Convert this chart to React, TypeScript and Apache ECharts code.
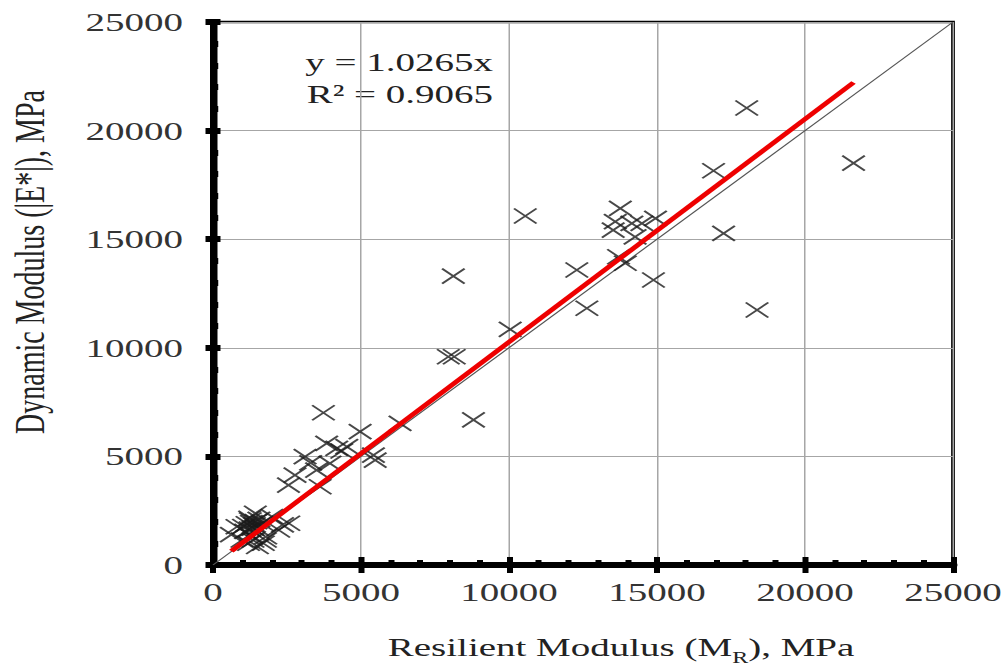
import React, { useEffect, useRef } from "react";
import * as echarts from "echarts";

// Resilient modulus (x) vs dynamic modulus (y), MPa
const xValues: number[] = [
  21640, 18030, 16910, 14950, 17250, 14880, 18380,
  10550, 8120, 13760, 13590, 13520, 14150, 14490, 14260, 13700, 13930, 12290, 12630,
  10040, 7950, 8150, 8800, 6320,
  3730, 4970, 5420, 5480, 3840, 4180, 4520, 3110, 2770, 2550, 3620, 3500, 3950, 4350, 3300,
  1430, 810, 1260, 1660, 2220, 2560, 980, 1320, 1770, 620, 1990, 1240, 1030, 1350, 1780,
  1100, 1500, 1400, 1200, 1500, 1700, 2350, 1150, 1300, 1450, 1350, 1550, 1250,
];
const yValues: number[] = [
  18500, 21040, 18150, 15960, 15270, 13120, 11740,
  16070, 13300, 16420, 15810, 15420, 15730, 15730, 15110, 14190, 13890, 13580, 11820,
  10850, 9590, 9590, 6680, 6520,
  7010, 6140, 5060, 4830, 5600, 5370, 5450, 4990, 4140, 3680, 3600, 4370, 4680, 5250, 4700,
  2380, 1760, 2070, 1920, 1610, 1920, 1150, 1300, 1150, 1400, 2230, 2150, 1770, 1150, 1300,
  1550, 1700, 1850, 1000, 850, 1000, 1850, 1900, 1950, 2000, 1700, 2100, 1650,
];
const slope = 1.0265;
const rSquared = "0.9065";
const axisMin = 0;
const axisMax = 25000;
const axisStep = 5000;

const S = 1.5; // reference is stretched horizontally
const W = 1004 / S;
const H = 670;
const FONT = "'Liberation Serif', 'Times New Roman', serif";

export default function App() {
  const ref = useRef<HTMLDivElement>(null);
  useEffect(() => {
    if (!ref.current) return;
    const chart = echarts.init(ref.current, null, { renderer: "svg", width: W, height: H });
    const points = xValues.map((x, i) => [x, yValues[i]]);
    const minX = Math.min(...xValues);
    const maxX = Math.max(...xValues);
    const trend = [
      [minX, slope * minX],
      [maxX, slope * maxX],
    ];
    const gridLeft = 213 / S;
    const gridRight = W - 953 / S;
    const baseAxis = {
      type: "value" as const,
      min: axisMin,
      max: axisMax,
      interval: axisStep,
    };
    const xTickStyle = { color: "#000", width: 4 };
    const yTickStyle = { color: "#000", width: 6 };
    const fmt = (v: number) => String(v);
    chart.setOption({
      animation: false,
      backgroundColor: "#fff",
      grid: {
        left: gridLeft,
        right: gridRight,
        top: 22,
        bottom: 105,
        show: true,
        borderColor: "#000",
        borderWidth: 2.5,
        outerBoundsMode: "none",
        containLabel: false,
      },
      xAxis: [
        {
          ...baseAxis,
          position: "bottom",
          axisLine: { show: true, onZero: false, lineStyle: { color: "#000", width: 6 } },
          axisTick: { show: true, inside: false, length: 8, lineStyle: xTickStyle },
          splitLine: { show: true, lineStyle: { color: "#a6a6a6", width: 1 } },
          axisLabel: { fontFamily: FONT, fontSize: 26, color: "#333", margin: 14, formatter: fmt },
        },
        {
          ...baseAxis,
          position: "bottom",
          axisLine: { show: false },
          axisTick: { show: true, inside: true, length: 8, lineStyle: xTickStyle },
          minorTick: { show: true, splitNumber: 5, length: 5, lineStyle: xTickStyle },
          splitLine: { show: false },
          axisLabel: { show: false },
        },
      ],
      yAxis: [
        {
          ...baseAxis,
          position: "left",
          axisLine: { show: true, onZero: false, lineStyle: { color: "#000", width: 5 } },
          axisTick: { show: true, inside: false, length: 5, lineStyle: yTickStyle },
          splitLine: { show: true, lineStyle: { color: "#a6a6a6", width: 1 } },
          axisLabel: { fontFamily: FONT, fontSize: 26, color: "#333", margin: 20, formatter: fmt },
        },
        {
          ...baseAxis,
          position: "left",
          axisLine: { show: false },
          axisTick: { show: true, inside: true, length: 5, lineStyle: yTickStyle },
          minorTick: { show: true, splitNumber: 5, length: 3.5, lineStyle: yTickStyle },
          splitLine: { show: false },
          axisLabel: { show: false },
        },
      ],
      series: [
        {
          type: "line",
          data: [
            [axisMin, axisMin],
            [axisMax, axisMax],
          ],
          symbol: "none",
          lineStyle: { color: "#555", width: 1 },
          silent: true,
          z: 2,
        },
        {
          type: "scatter",
          data: points,
          symbol: "path://M0,0L10,10M0,10L10,0",
          symbolSize: 15,
          itemStyle: { color: "none", borderColor: "#1a1a1a", borderWidth: 1.6 },
          z: 3,
        },
        {
          type: "line",
          data: trend,
          symbol: "none",
          lineStyle: { color: "#ee0000", width: 4 },
          z: 4,
        },
      ],
      graphic: [
        {
          type: "text",
          x: 493 / S,
          y: 62,
          style: {
            text: `y = ${slope}x`,
            font: `26px ${FONT}`,
            fill: "#222",
            align: "right",
            verticalAlign: "middle",
          },
        },
        {
          type: "text",
          x: 493 / S,
          y: 94,
          style: {
            text: `R² = ${rSquared}`,
            font: `26px ${FONT}`,
            fill: "#222",
            align: "right",
            verticalAlign: "middle",
          },
        },
        {
          type: "text",
          x: 20,
          y: 262,
          rotation: Math.PI / 2,
          style: {
            text: "Dynamic Modulus (|E*|), MPa",
            font: `28px ${FONT}`,
            fill: "#222",
            align: "center",
            verticalAlign: "middle",
          },
        },
        {
          type: "text",
          x: 621 / S,
          y: 645,
          style: {
            text: "{a|Resilient Modulus (M}{s|R}{a|), MPa}",
            align: "center",
            verticalAlign: "middle",
            rich: {
              a: { fontFamily: FONT, fontSize: 26, fill: "#222", color: "#222", lineHeight: 30, verticalAlign: "bottom" },
              s: { fontFamily: FONT, fontSize: 16, fill: "#222", color: "#222", lineHeight: 30, verticalAlign: "bottom", padding: [0, 0, -6, 0] },
            },
          },
        },
      ],
    });
    return () => chart.dispose();
  }, []);
  return (
    <div
      style={{
        position: "fixed",
        left: 0,
        top: 0,
        width: 1004,
        height: 670,
        overflow: "hidden",
        background: "#fff",
      }}
    >
      <div
        ref={ref}
        style={{ width: W, height: H, transform: `scaleX(${S})`, transformOrigin: "0 0" }}
      />
    </div>
  );
}
